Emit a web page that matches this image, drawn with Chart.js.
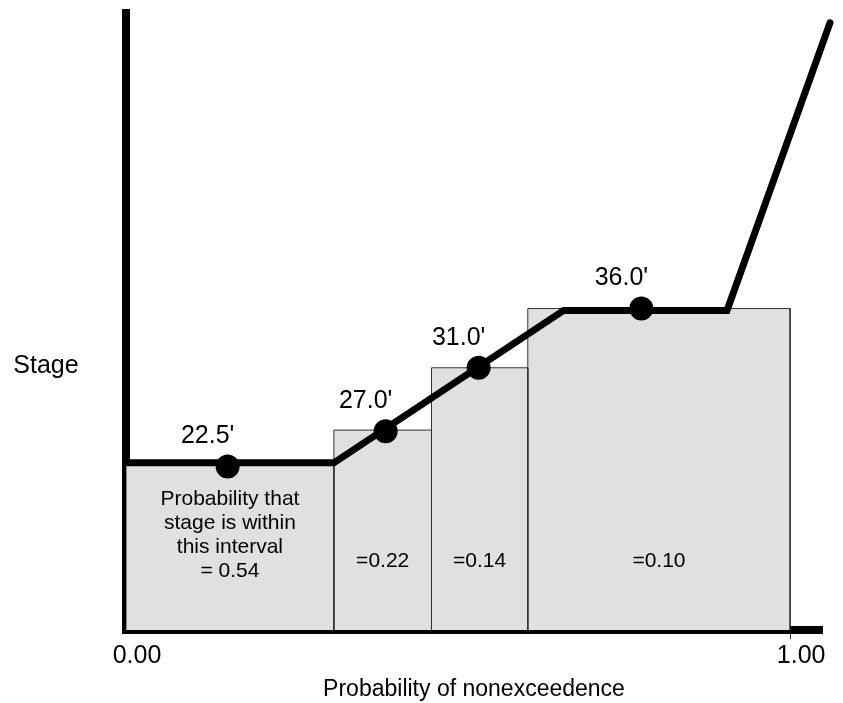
<!DOCTYPE html>
<html>
<head>
<meta charset="utf-8">
<script src="https://cdn.jsdelivr.net/npm/chart.js@4.4.1/dist/chart.umd.min.js"></script>
<style>
  html, body { margin: 0; padding: 0; background: #fff; }
  #wrap { width: 843px; height: 703px; }
</style>
</head>
<body>
<div id="wrap"><canvas id="stage"></canvas></div>
<script>
// interval bins (probability of nonexceedence) and their heights on the stage axis
const binEdges = [0, 0.313, 0.460, 0.605, 1.0];
const binTops = [27.1, 32.4, 42.5, 52.1];
const binLabels = [
  ['Probability that', 'stage is within', 'this interval', '= 0.54'],
  ['=0.22'],
  ['=0.14'],
  ['=0.10']
];

// stage-probability curve
const curveX = [0, 0.313, 0.659, 0.905, 1.060];
const curveY = [27.1, 27.1, 51.8, 51.8, 98.4];

// representative stage of each interval
const stageX = [0.153, 0.391, 0.531, 0.776];
const stageY = [26.5, 32.2, 42.5, 52.1];
const stageLabels = ["22.5'", "27.0'", "31.0'", "36.0'"];

const xTicks = [0, 1];

const FONT = "'Liberation Sans', Arial, sans-serif";

const binSets = binTops.map((top, i) => ({
  data: [
    {x: binEdges[i], y: 0},
    {x: binEdges[i], y: top},
    {x: binEdges[i + 1], y: top},
    {x: binEdges[i + 1], y: 0}
  ],
  borderColor: '#333',
  borderWidth: 1,
  backgroundColor: '#e0e0e0',
  fill: 'origin',
  pointRadius: 0,
  tension: 0,
  order: 3
}));

const textPlugin = {
  id: 'texts',
  afterDatasetsDraw(chart) {
    const ctx = chart.ctx;
    const xs = chart.scales.x, ys = chart.scales.y;
    const bottom = chart.chartArea.bottom;
    ctx.save();
    ctx.fillStyle = '#000';
    ctx.textAlign = 'center';
    ctx.textBaseline = 'middle';

    // labels inside bins
    ctx.font = '21px ' + FONT;
    binLabels.forEach((lines, i) => {
      const cx = (xs.getPixelForValue(binEdges[i]) + xs.getPixelForValue(binEdges[i + 1])) / 2;
      let y = lines.length > 1 ? bottom - 131 : bottom - 69;
      lines.forEach(l => { ctx.fillText(l, cx, y); y += 24; });
    });

    // stage labels above points
    ctx.font = '25px ' + FONT;
    stageLabels.forEach((l, i) => {
      ctx.fillText(l, xs.getPixelForValue(stageX[i]) - 20, ys.getPixelForValue(stageY[i]) - 30);
    });

    // y axis title, horizontal
    ctx.fillText('Stage', 46, 366);
    ctx.restore();
  }
};

new Chart(document.getElementById('stage').getContext('2d'), {
  type: 'line',
  data: {
    datasets: [
      {
        data: stageX.map((x, i) => ({x: x, y: stageY[i]})),
        showLine: false,
        pointRadius: 11,
        pointBorderWidth: 2,
        pointBackgroundColor: '#000',
        pointBorderColor: '#000',
        order: 1
      },
      {
        data: curveX.map((x, i) => ({x: x, y: curveY[i]})),
        borderColor: '#000',
        borderWidth: 7,
        borderCapStyle: 'round',
        borderJoinStyle: 'miter',
        pointRadius: 0,
        fill: false,
        tension: 0,
        clip: false,
        order: 2
      },
      ...binSets
    ]
  },
  options: {
    responsive: true,
    maintainAspectRatio: false,
    animation: false,
    layout: { padding: { left: 118, right: 21, top: 5, bottom: 2 } },
    plugins: { legend: { display: false }, tooltip: { enabled: false } },
    scales: {
      x: {
        type: 'linear',
        min: 0,
        max: 1.048,
        z: 1,
        afterBuildTicks: scale => { scale.ticks = xTicks.map(v => ({value: v})); },
        ticks: {
          color: '#000',
          font: { family: FONT, size: 25 },
          padding: 2,
          labelOffset: 11,
          maxRotation: 0,
          callback: v => v.toFixed(2)
        },
        grid: {
          drawOnChartArea: false,
          tickLength: 9,
          lineWidth: 1,
          color: c => (c.tick && c.tick.value === 1) ? '#333' : 'rgba(0,0,0,0)'
        },
        border: { display: true, color: '#000', width: 8 },
        title: {
          display: true,
          text: 'Probability of nonexceedence',
          color: '#000',
          font: { family: FONT, size: 23, lineHeight: 1 },
          padding: { top: 5, bottom: 0 }
        }
      },
      y: {
        min: 0,
        max: 100,
        z: 1,
        ticks: { display: false },
        grid: { display: false },
        border: { display: true, color: '#000', width: 8 }
      }
    }
  },
  plugins: [textPlugin]
});
</script>
</body>
</html>
